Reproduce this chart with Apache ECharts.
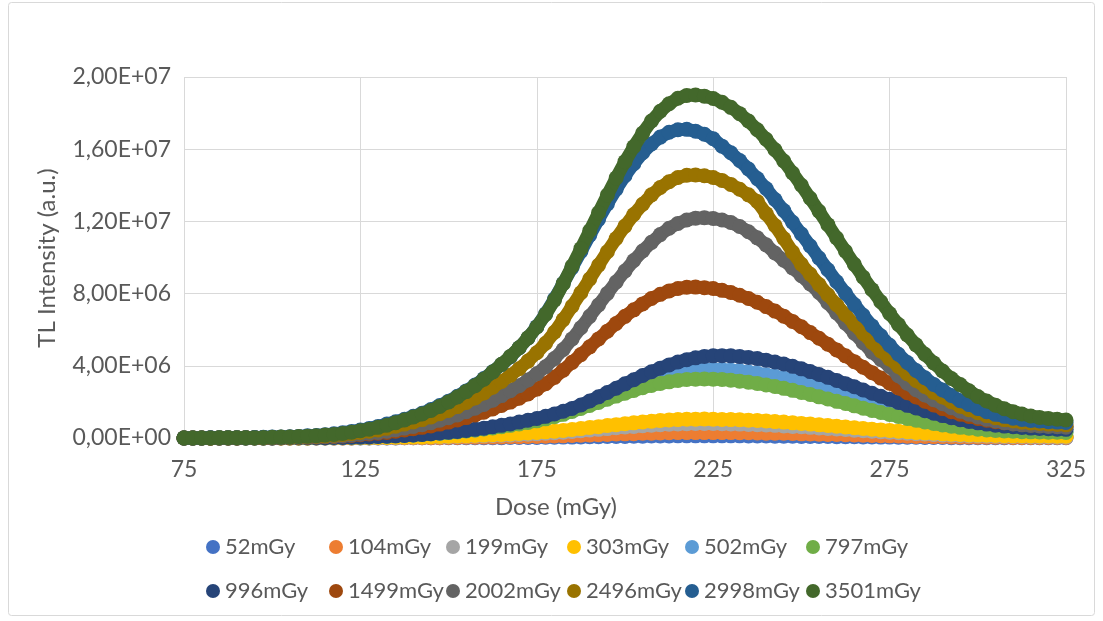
<!DOCTYPE html>
<html>
<head>
<meta charset="utf-8">
<title>TL glow curves</title>
<script src="https://cdn.jsdelivr.net/npm/echarts@6/dist/echarts.min.js"></script>
<style>
  html, body { margin: 0; padding: 0; background: #ffffff; }
  #chart { width: 1103px; height: 621px; }
</style>
</head>
<body>
<div id="chart"></div>
<script>
// Temperature grid shared by every curve (axis labelled "Dose (mGy)")
const doses = [
  75, 77.5, 80, 82.5, 85, 87.5, 90, 92.5, 95, 97.5,
  100, 102.5, 105, 107.5, 110, 112.5, 115, 117.5, 120, 122.5,
  125, 127.5, 130, 132.5, 135, 137.5, 140, 142.5, 145, 147.5,
  150, 152.5, 155, 157.5, 160, 162.5, 165, 167.5, 170, 172.5,
  175, 177.5, 180, 182.5, 185, 187.5, 190, 192.5, 195, 197.5,
  200, 202.5, 205, 207.5, 210, 212.5, 215, 217.5, 220, 222.5,
  225, 227.5, 230, 232.5, 235, 237.5, 240, 242.5, 245, 247.5,
  250, 252.5, 255, 257.5, 260, 262.5, 265, 267.5, 270, 272.5,
  275, 277.5, 280, 282.5, 285, 287.5, 290, 292.5, 295, 297.5,
  300, 302.5, 305, 307.5, 310, 312.5, 315, 317.5, 320, 322.5,
  325
];

// TL intensities, in units of 1e4 a.u.
const tl52 = [
  0,0,0,0,0,0,0,0,0,0,
  0,0,0,0,0,0,0,0,0,0,
  0,0,0,0,0,1,1,1,1,1,
  1,1,1,2,2,2,2,3,3,3,
  3,4,4,5,5,6,7,7,8,8,
  9,10,10,11,11,11,12,12,12,12,
  12,12,12,12,11,11,11,10,10,10,
  9,9,8,8,7,7,7,6,6,5,
  5,4,4,4,3,3,3,2,2,2,
  2,2,2,2,2,1,1,1,1,1,
  1
];
const tl104 = [
  0,0,0,0,0,0,0,0,0,0,
  0,0,0,0,0,0,0,0,0,0,
  1,1,1,1,1,1,2,2,2,2,
  3,3,4,4,5,5,6,7,7,8,
  9,10,11,12,14,15,17,18,20,22,
  23,24,26,27,28,29,30,30,30,30,
  30,30,30,29,29,28,27,26,26,25,
  23,22,21,20,19,18,17,15,14,13,
  12,11,10,9,8,7,7,6,5,5,
  4,4,4,4,3,3,3,3,3,3,
  3
];
const tl199 = [
  0,0,0,0,0,0,0,0,0,0,
  0,0,0,0,0,0,0,0,1,1,
  1,2,2,2,3,4,4,5,6,6,
  7,8,10,11,12,14,15,17,19,21,
  23,26,29,32,36,40,44,48,52,57,
  61,64,68,71,74,76,78,79,80,80,
  80,79,78,77,75,74,72,70,67,64,
  62,59,56,53,50,47,43,40,37,35,
  32,29,26,24,22,19,17,16,14,13,
  12,11,10,9,8,8,7,7,7,6,
  6
];
const tl303 = [
  0,0,0,0,0,0,0,0,0,0,
  0,0,0,0,0,1,1,1,1,1,
  2,2,3,3,4,5,6,6,7,8,
  10,11,12,14,16,18,20,22,25,28,
  31,34,38,42,47,52,58,63,69,74,
  79,84,89,93,97,100,102,104,104,105,
  104,103,102,101,99,97,94,91,88,84,
  81,77,73,69,65,61,57,53,49,45,
  42,38,35,31,28,26,23,21,19,17,
  16,15,14,13,12,12,11,11,11,10,
  10
];
const tl502 = [
  0,0,0,0,0,0,0,0,0,0,
  0,1,1,1,1,2,2,3,3,4,
  5,6,8,10,12,14,17,20,23,27,
  30,35,40,45,51,58,65,73,82,90,
  100,111,123,137,153,171,190,210,230,250,
  269,288,306,323,338,351,362,370,376,380,
  380,379,376,372,366,359,351,342,331,319,
  307,294,280,266,251,236,222,207,192,178,
  164,151,138,126,114,103,93,84,76,69,
  63,57,52,48,45,42,40,39,38,37,
  36
];
const tl797 = [
  0,0,0,0,0,0,0,0,0,0,
  1,1,1,1,1,2,2,3,3,4,
  6,7,8,10,12,15,17,20,23,26,
  30,34,39,44,50,56,63,70,78,86,
  95,106,118,131,147,164,180,197,215,232,
  248,263,278,291,302,311,319,324,326,327,
  326,324,320,315,309,302,294,285,275,264,
  252,241,228,216,203,191,178,165,153,141,
  130,119,108,98,89,80,72,65,59,54,
  49,45,42,39,37,35,34,33,32,32,
  31
];
const tl996 = [
  0,0,0,0,0,0,0,0,0,0,
  0,1,1,1,1,2,2,3,3,4,
  5,6,8,10,12,14,17,20,24,28,
  32,36,42,48,54,62,70,78,88,98,
  108,120,133,148,164,183,205,228,252,276,
  300,323,346,367,387,405,421,434,444,452,
  455,456,455,451,446,440,431,421,410,397,
  383,368,352,336,319,301,284,266,248,231,
  214,197,181,166,151,137,124,112,101,92,
  84,77,71,66,62,58,55,53,51,49,
  48
];
const tl1499 = [
  0,0,0,0,0,0,0,1,1,1,
  2,2,3,4,4,6,7,9,11,14,
  18,22,26,31,37,44,51,59,67,77,
  88,100,113,128,143,161,180,199,220,244,
  271,301,336,376,419,462,505,549,592,634,
  674,710,743,773,796,815,828,835,836,833,
  828,818,806,791,773,752,728,703,675,646,
  616,584,553,520,488,455,423,392,362,332,
  304,277,251,227,204,183,163,146,132,119,
  108,98,90,84,79,75,72,70,68,66,
  65
];
const tl2002 = [
  0,0,0,0,0,1,1,1,1,1,
  2,3,3,4,5,6,8,10,13,16,
  21,26,31,38,46,55,64,74,85,98,
  112,128,146,165,186,209,235,262,290,321,
  356,395,440,490,549,611,674,737,801,864,
  925,983,1036,1084,1127,1162,1189,1208,1218,1220,
  1216,1208,1194,1172,1143,1109,1070,1025,985,942,
  899,853,806,749,693,636,581,528,476,435,
  396,345,304,267,238,212,190,168,148,132,
  117,104,94,85,78,73,69,67,64,62,
  60
];
const tl2496 = [
  0,0,0,0,1,1,1,2,2,2,
  3,4,5,6,8,10,12,15,19,25,
  31,38,45,54,65,77,89,102,117,134,
  153,174,197,222,250,281,313,347,384,426,
  472,525,586,656,730,805,881,957,1032,1105,
  1174,1238,1295,1347,1388,1420,1443,1456,1457,1453,
  1443,1427,1405,1378,1347,1310,1243,1177,1105,1030,
  963,907,850,794,738,683,630,579,529,482,
  438,396,356,319,285,253,227,201,176,157,
  140,124,112,102,94,87,83,80,77,75,
  73
];
const tl2998 = [
  0,0,0,1,1,1,2,2,3,4,
  5,5,7,9,12,14,18,23,29,36,
  44,53,64,77,90,104,120,137,158,180,
  204,231,261,293,329,367,407,450,500,554,
  617,688,770,857,944,1033,1123,1211,1297,1378,
  1453,1520,1580,1629,1667,1694,1708,1710,1700,1683,
  1658,1617,1580,1537,1490,1437,1382,1321,1260,1195,
  1130,1064,997,932,866,802,740,680,621,566,
  514,464,418,374,334,297,266,236,207,185,
  164,146,131,120,110,103,97,94,90,88,
  86
];
const tl3501 = [
  0,0,0,0,1,1,1,2,2,3,
  4,5,6,8,10,13,16,20,25,32,
  40,49,59,71,85,100,116,133,152,175,
  200,227,257,290,326,366,408,452,500,555,
  615,685,764,855,952,1049,1148,1248,1346,1441,
  1531,1614,1689,1756,1810,1852,1882,1898,1900,1894,
  1881,1860,1832,1797,1756,1708,1655,1597,1535,1468,
  1400,1328,1256,1182,1108,1035,962,891,822,755,
  690,629,571,516,464,416,371,330,296,262,
  230,205,182,162,146,133,122,114,108,104,
  100
];

const UNIT = 1e4;

const seriesNames = ['52mGy', '104mGy', '199mGy', '303mGy', '502mGy', '797mGy',
                     '996mGy', '1499mGy', '2002mGy', '2496mGy', '2998mGy', '3501mGy'];
const seriesValues = [tl52, tl104, tl199, tl303, tl502, tl797,
                      tl996, tl1499, tl2002, tl2496, tl2998, tl3501];
const seriesColors = ['#4472C4', '#ED7D31', '#A5A5A5', '#FFC000', '#5B9BD5', '#70AD47',
                      '#264478', '#9E480E', '#636363', '#997300', '#255E91', '#43682B'];

const yTicks = [0, 4e6, 8e6, 1.2e7, 1.6e7, 2e7];

const FONT = 'Lato, "Open Sans", sans-serif';
const TEXT_COLOR = '#595959';

// "1,60E+07" style labels
function sciLabel(v) {
  if (v === 0) return '0,00E+00';
  const e = Math.floor(Math.log10(Math.abs(v)) + 1e-9);
  const m = v / Math.pow(10, e);
  return m.toFixed(2).replace('.', ',') + 'E+' + String(e).padStart(2, '0');
}

// thick marker trails: round markers joined by a line of nearly the same width
const series = seriesNames.map((name, k) => ({
  name: name,
  type: 'line',
  z: 2 + k,
  symbol: 'circle',
  symbolSize: 15,
  showSymbol: true,
  showAllSymbol: true,
  clip: false,
  smooth: false,
  lineStyle: { color: seriesColors[k], width: 13, cap: 'round', join: 'round' },
  itemStyle: { color: seriesColors[k], borderWidth: 0, opacity: 1 },
  emphasis: { disabled: true },
  data: doses.map((d, i) => [d, seriesValues[k][i] * UNIT])
}));

// two rows of six legend entries on fixed columns
const legendCols = [213, 336, 453, 574, 692, 813];
const legendRows = [548, 592];
const legends = seriesNames.map((name, k) => ({
  data: [name],
  left: legendCols[k % 6] - 7,
  top: legendRows[Math.floor(k / 6)] - 12,
  padding: 0,
  icon: 'circle',
  itemWidth: 14,
  itemHeight: 14,
  selectedMode: false,
  textStyle: { color: TEXT_COLOR, fontSize: 22, fontFamily: FONT }
}));

const chart = echarts.init(document.getElementById('chart'), null, { renderer: 'canvas' });
chart.setOption({
  animation: false,
  backgroundColor: '#ffffff',
  grid: { left: 184, right: 37, top: 77, bottom: 183 },
  xAxis: {
    type: 'value',
    min: 75, max: 325, interval: 50,
    axisLine: { show: false },
    axisTick: { show: false },
    splitLine: { show: true, lineStyle: { color: '#d9d9d9', width: 1 } },
    axisLabel: { color: TEXT_COLOR, fontSize: 23, fontFamily: FONT, margin: 20 }
  },
  yAxis: {
    type: 'value',
    min: yTicks[0], max: yTicks[yTicks.length - 1], interval: yTicks[1] - yTicks[0],
    axisLine: { show: false },
    axisTick: { show: false },
    splitLine: { show: true, lineStyle: { color: '#d9d9d9', width: 1 } },
    axisLabel: { color: TEXT_COLOR, fontSize: 23, fontFamily: FONT, margin: 13, formatter: sciLabel }
  },
  legend: legends,
  graphic: [
    {
      type: 'rect', silent: true, z: -1,
      shape: { x: 8.5, y: 2.5, width: 1086, height: 613, r: 3 },
      style: { fill: 'none', stroke: '#d9d9d9', lineWidth: 1 }
    },
    {
      type: 'text', silent: true,
      x: 556, y: 507,
      style: { text: 'Dose (mGy)', fill: TEXT_COLOR, font: '24px ' + FONT, textAlign: 'center', textVerticalAlign: 'middle' }
    },
    {
      type: 'text', silent: true,
      x: 47, y: 258, rotation: Math.PI / 2,
      style: { text: 'TL Intensity (a.u.)', fill: TEXT_COLOR, font: '24px ' + FONT, textAlign: 'center', textVerticalAlign: 'middle' }
    }
  ],
  series: series
});
</script>
</body>
</html>
